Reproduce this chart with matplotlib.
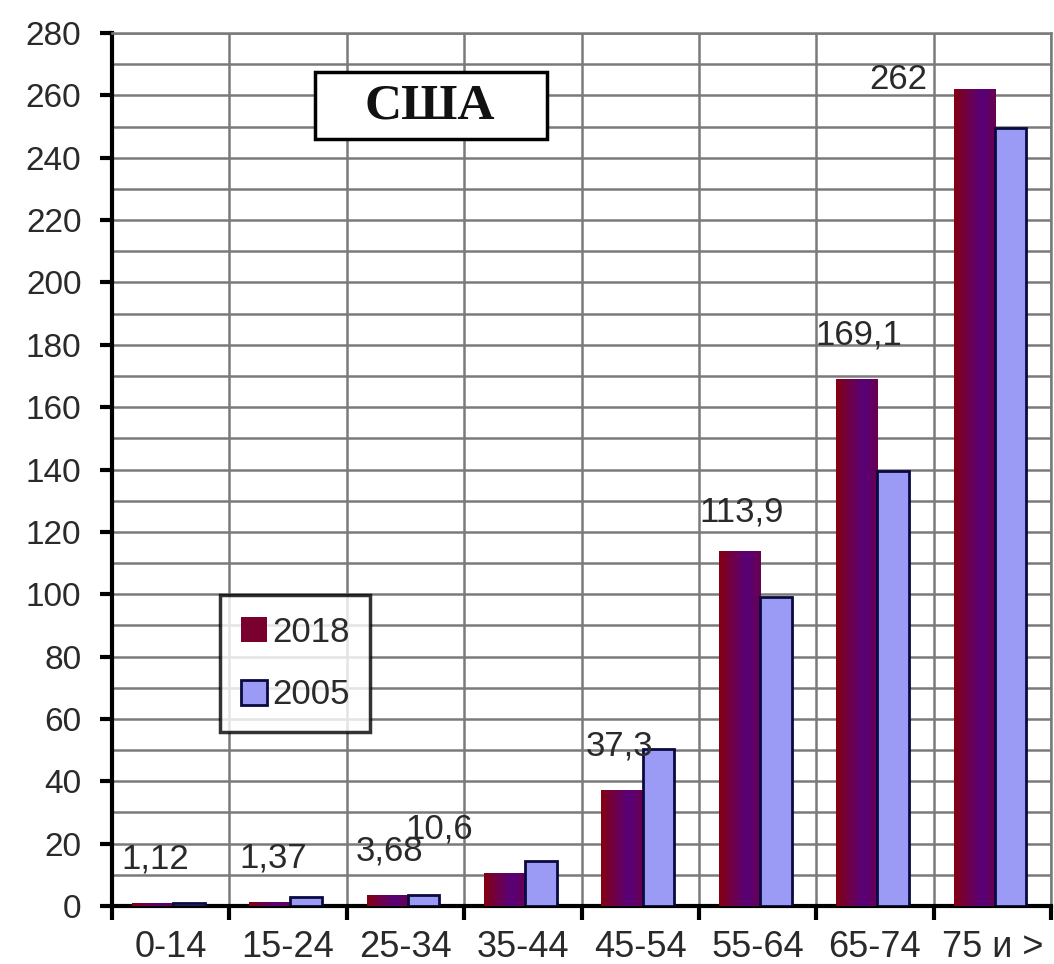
import matplotlib
matplotlib.use("Agg")
import matplotlib.pyplot as plt
import numpy as np
from matplotlib.colors import LinearSegmentedColormap
from matplotlib.patches import Rectangle

# age groups and values (per 100 000)
groups = ["0-14", "15-24", "25-34", "35-44", "45-54", "55-64", "65-74", "75 и >"]
v2018 = [1.12, 1.37, 3.68, 10.6, 37.3, 113.9, 169.1, 262]
v2005 = [0.9, 2.8, 3.5, 14.4, 50.2, 99, 139.5, 249.5]
labels2018 = ["1,12", "1,37", "3,68", "10,6", "37,3", "113,9", "169,1", "262"]
# label placement offsets (x in category units, y in data units)
lab_dx = [-0.13, -0.13, -0.14, -0.71, -0.18, -0.14, -0.14, -0.80]
lab_dy = [14, 14, 14, 14, 14, 12.5, 14, 3]

plt.rcParams['font.family'] = ['Liberation Sans', 'DejaVu Sans']
txt = "#2a2a2a"
gridc = "#7a7a7a"

fig = plt.figure(figsize=(10.54, 9.64), dpi=100)
ax = fig.add_axes([112/1054, 58/964, 939/1054, 873/964])

x = np.arange(len(groups))

red_cmap = LinearSegmentedColormap.from_list("r", ["#850010", "#6e004a", "#58007a", "#680050"])
grad = np.linspace(0, 1, 64).reshape(1, -1)

bars18 = ax.bar(x - 0.155, v2018, 0.35, color="#7a0030", edgecolor="none", zorder=3)
for b in bars18:
    x0, y0 = b.get_x(), b.get_y()
    im = ax.imshow(grad, cmap=red_cmap, aspect="auto", zorder=3.1,
                   extent=[x0, x0 + b.get_width(), y0, y0 + b.get_height()])
    im.set_clip_path(b)
bars05 = ax.bar(x + 0.155, v2005, 0.27, color="#9b9bf5", edgecolor="#0a0a40",
                linewidth=2, zorder=3.5)

for i in range(len(groups)):
    ax.text(x[i] + lab_dx[i], v2018[i] + lab_dy[i], labels2018[i], ha="center",
            va="center", fontsize=25, color=txt, zorder=5)

ax.set_xlim(-0.5, 7.5)
ax.set_ylim(0, 280)
ax.set_yticks(np.arange(0, 281, 20))
ax.set_yticks(np.arange(10, 280, 20), minor=True)
ax.tick_params(axis="y", which="major", labelsize=24, length=9, width=3, direction="out", pad=13)
ax.tick_params(axis="y", which="minor", length=0)
ax.set_xticks(np.arange(-0.5, 7.6, 1))
ax.set_xticklabels([""] * 9)
ax.set_xticks(x, minor=True)
ax.set_xticklabels(groups, minor=True)
ax.tick_params(axis="x", which="major", length=10, width=3, direction="out")
ax.tick_params(axis="x", which="minor", length=0, labelsize=26, pad=17)
for t in ax.get_yticklabels() + ax.get_xticklabels(minor=True):
    t.set_color(txt)

ax.grid(True, which="both", axis="y", color=gridc, linewidth=1.8, zorder=0)
ax.grid(True, which="major", axis="x", color=gridc, linewidth=1.8, zorder=0)
ax.set_axisbelow(True)

ax.spines["left"].set_linewidth(3)
ax.spines["bottom"].set_linewidth(3)
for s in ["top", "right"]:
    ax.spines[s].set_color(gridc)
    ax.spines[s].set_linewidth(1.8)

# title box
ax.add_patch(Rectangle((1.226, 246), 1.98, 21.5, fc="white", ec="black", lw=2.5, zorder=6))
ax.text(2.21, 256.5, "США", ha="center", va="center", fontsize=37, fontweight="bold",
        family="Liberation Serif", color="#111111", zorder=7)

leg = ax.legend([bars18[0], bars05[0]], ["2018", "2005"], loc="upper left",
                bbox_to_anchor=(108/939, (906-595)/873), borderaxespad=0, fontsize=25,
                frameon=True, fancybox=False, handlelength=0.75, handleheight=0.75,
                handletextpad=0.15, labelspacing=0.85, borderpad=0.6)
leg.get_frame().set_edgecolor("black")
leg.get_frame().set_linewidth(2.5)
for t in leg.get_texts():
    t.set_color(txt)
leg.set_zorder(6)

fig.savefig("out.png", dpi=100, facecolor="white")
